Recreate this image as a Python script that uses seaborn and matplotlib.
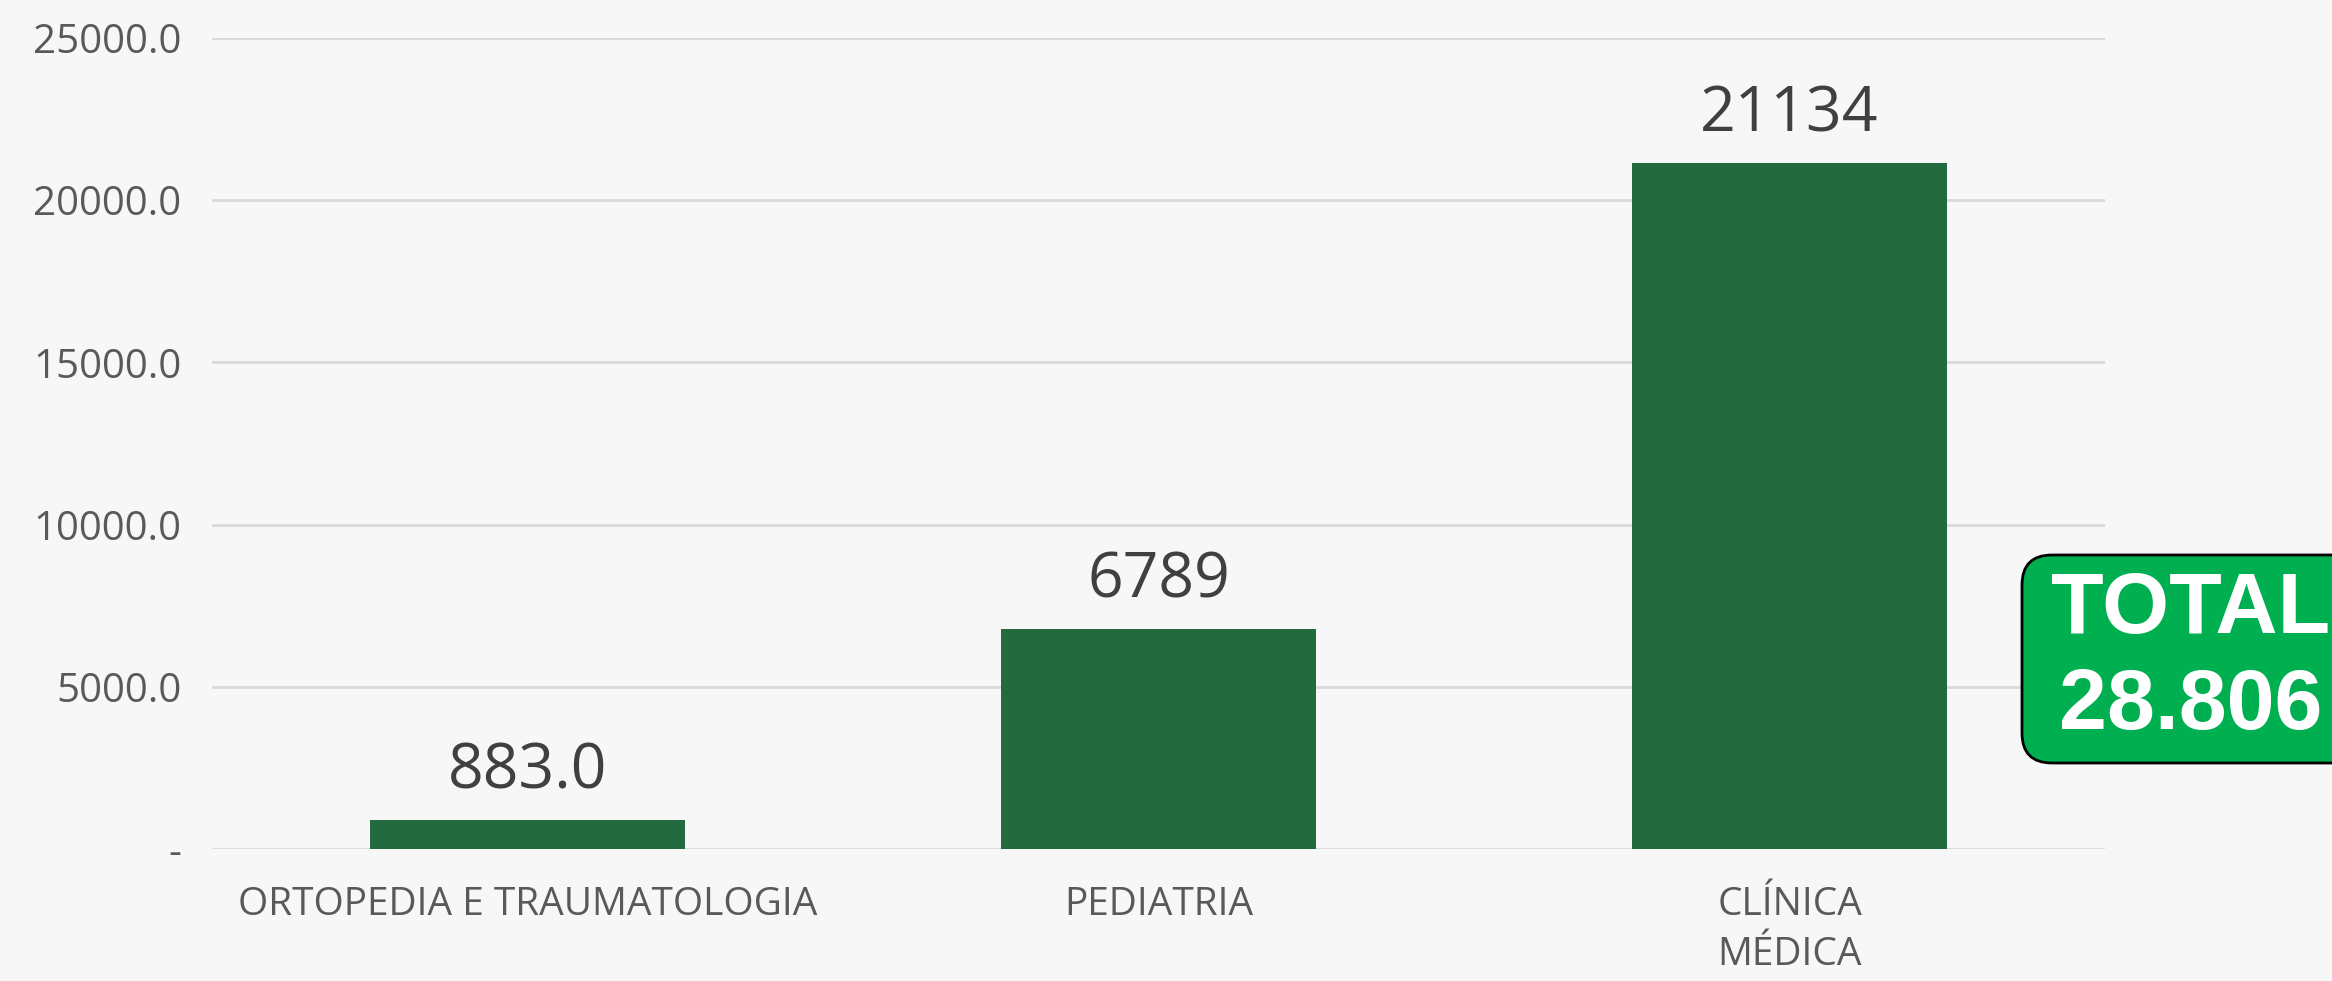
import matplotlib
matplotlib.use("Agg")
import matplotlib.pyplot as plt
import matplotlib.patches as mpatches
import seaborn as sns

categories = ["ORTOPEDIA E TRAUMATOLOGIA", "PEDIATRIA", "CLÍNICA\nMÉDICA"]
values = [883, 6789, 21134]
value_labels = ["883.0", "6789", "21134"]
y_ticks = [0, 5000, 10000, 15000, 20000, 25000]

bar_color = "#246a3f"
bg = "#f7f7f7"
font = ["Open Sans", "DejaVu Sans"]

fig = plt.figure(figsize=(23.32, 9.81), dpi=100, facecolor=bg)
ax = fig.add_axes([0.0909, 0.1346, 0.8118, 0.8267])
ax.set_facecolor(bg)

sns.barplot(x=categories, y=values, color=bar_color, width=0.5, saturation=1, ax=ax)

ax.set_ylim(0, 25000)
ax.set_yticks(y_ticks)
ax.set_yticklabels(["-" if t == 0 else f"{t:.1f}" for t in y_ticks])
ax.grid(axis="y", color="#d9d9d9", linewidth=2)
ax.set_axisbelow(True)
for s in ax.spines.values():
    s.set_visible(False)
ax.tick_params(axis="both", length=0, colors="#595959")
ax.tick_params(axis="y", pad=22)
ax.tick_params(axis="x", pad=27)
for lab in ax.get_yticklabels():
    lab.set_fontfamily(font)
    lab.set_fontsize(29)
for lab in ax.get_xticklabels():
    lab.set_fontfamily(font)
    lab.set_fontsize(28)
    lab.set_verticalalignment("top")
    lab.set_multialignment("center")
    lab.set_linespacing(1.4)
ax.set_xlabel("")
ax.set_ylabel("")

ax.bar_label(ax.containers[0], labels=value_labels, padding=12,
             fontsize=45, color="#404040", family=font)

# total box
total = sum(values)
box = mpatches.FancyBboxPatch((2022, 981 - 763), 360, 208,
                              boxstyle="round,pad=0,rounding_size=30",
                              facecolor="#00b050", edgecolor="black",
                              linewidth=2, transform=None)
fig.add_artist(box)
fig.text(2191 / 2332, (981 - 659) / 981, "TOTAL\n" + f"{total:,}".replace(",", "."),
         ha="center", va="center", fontsize=62, fontweight="bold",
         color="white", family=["Liberation Sans", "DejaVu Sans"], linespacing=1.27)

fig.savefig("out.png", dpi=100, facecolor=bg)
